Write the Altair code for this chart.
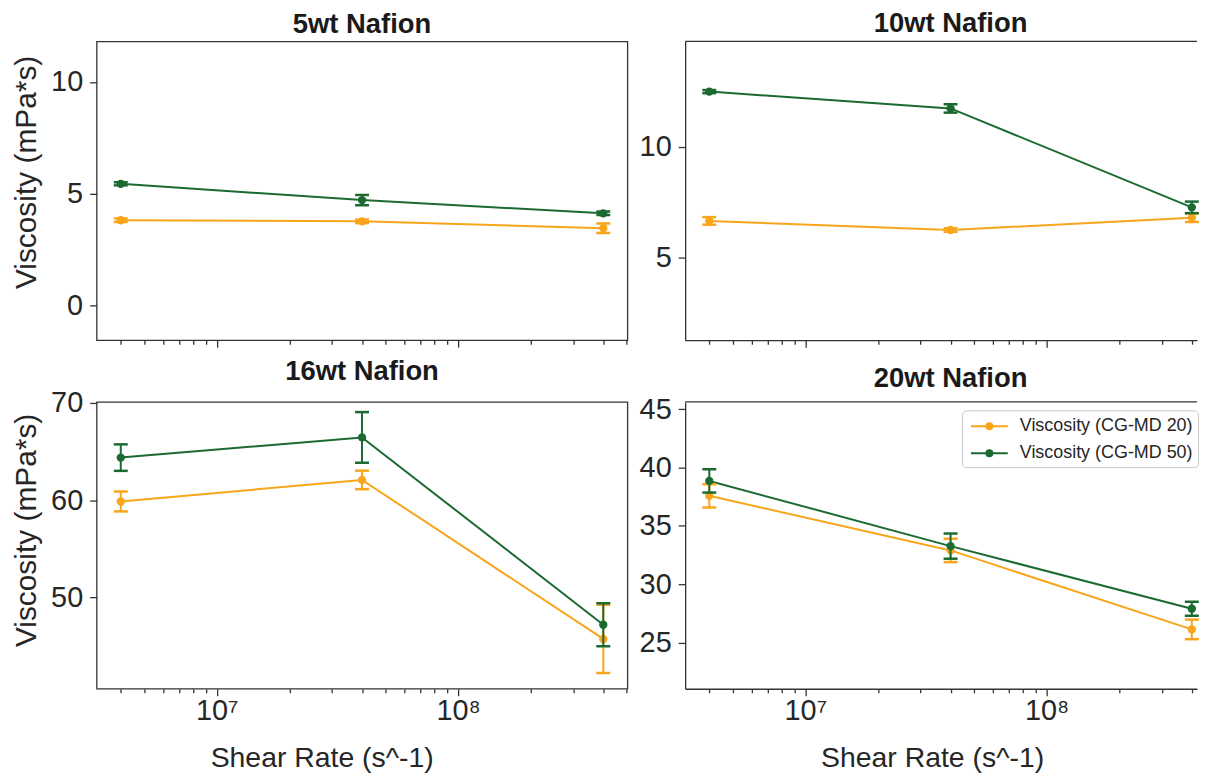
import altair as alt
import pandas as pd

# ---------------- data ----------------
shear_rates = [4e6, 4e7, 4e8]
series_names = ["Viscosity (CG-MD 20)", "Viscosity (CG-MD 50)"]
series_colors = ["#f9a51c", "#1b6a31"]
panel_titles = ["5wt Nafion", "10wt Nafion", "16wt Nafion", "20wt Nafion"]

visc_5wt_md20 = [3.81, 3.76, 3.45]
err_5wt_md20 = [0.08, 0.08, 0.21]
visc_5wt_md50 = [5.44, 4.71, 4.12]
err_5wt_md50 = [0.07, 0.23, 0.08]

visc_10wt_md20 = [6.65, 6.24, 6.79]
err_10wt_md20 = [0.17, 0.08, 0.19]
visc_10wt_md50 = [12.48, 11.72, 7.26]
err_10wt_md50 = [0.07, 0.19, 0.26]

visc_16wt_md20 = [59.86, 62.07, 45.75]
err_16wt_md20 = [1.02, 0.95, 3.5]
visc_16wt_md50 = [64.36, 66.43, 47.21]
err_16wt_md50 = [1.36, 2.6, 2.2]

visc_20wt_md20 = [37.58, 32.9, 26.13]
err_20wt_md20 = [1.0, 1.0, 0.84]
visc_20wt_md50 = [38.86, 33.27, 27.9]
err_20wt_md50 = [1.0, 1.08, 0.6]

y_ticks_5wt = [0, 5, 10]
y_ticks_10wt = [5, 10]
y_ticks_16wt = [50, 60, 70]
y_ticks_20wt = [25, 30, 35, 40, 45]

y_range_5wt = [-1.56, 11.81]
y_range_10wt = [1.27, 14.74]
y_range_16wt = [40.64, 70.07]
y_range_20wt = [21.04, 45.63]

# the right column is cut by the picture edge, so it shows a shorter span of the same scale
x_log_range_left = [6.502, 8.702]
x_log_range_right = [6.502, 8.6236]
x_major_ticks = [1e7, 1e8]
x_major_labels = ["10⁷", "10⁸"]

# ---------------- styling ----------------
FONT = "Liberation Sans"
TEXT = "#262626"
EDGE = "#333333"
W_LEFT, W_RIGHT = 533, 514
H_TOP, H_BOTTOM = 300, 288

minor_candidates = [m * 10.0 ** e for e in (6, 7, 8) for m in range(1, 10)]
MAJOR_TEST = " || ".join(f"datum.value == {int(v)}" for v in x_major_ticks)
LABEL_EXPR = " : ".join(
    f"datum.value == {int(v)} ? '{lab}'" for v, lab in zip(x_major_ticks, x_major_labels)
) + " : ''"

# legend glyph: a line with a filled-looking dot, drawn to the right of the symbol slot
SYMBOL_PATH = (
    "M-1,0L2.7,0 "
    "M1.15,0A0.3,0.3,0,1,1,0.55,0A0.3,0.3,0,1,1,1.15,0 "
    "M0.97,0A0.12,0.12,0,1,1,0.73,0A0.12,0.12,0,1,1,0.97,0"
)


def make_panel(title, md20, err20, md50, err50, y_range, y_ticks, x_log, width, height,
               left_col, bottom_row, show_legend, y_title_pos, x_title_pos):
    rows = []
    for name, vals, errs in ((series_names[0], md20, err20), (series_names[1], md50, err50)):
        for rate, v, e in zip(shear_rates, vals, errs):
            rows.append({"rate": rate, "visc": v, "lo": v - e, "hi": v + e, "series": name})
    df = pd.DataFrame(rows)

    x_lo, x_hi = 10 ** x_log[0], 10 ** x_log[1]
    tick_vals = [t for t in minor_candidates if x_lo <= t <= x_hi]
    x_scale = alt.Scale(type="log", domain=[x_lo, x_hi], nice=False)
    y_scale = alt.Scale(domain=y_range, nice=False, zero=False)

    x_kw = dict(
        values=tick_vals, labels=bottom_row, labelExpr=LABEL_EXPR,
        tickSize={"condition": {"test": MAJOR_TEST, "value": 7}, "value": 4},
        labelPadding=1, labelOverlap=False, labelFlush=False,
        domain=not left_col, grid=False,
    )
    if bottom_row:
        x_kw.update(title="Shear Rate (s^-1)", titleX=x_title_pos, titleY=55)
    else:
        x_kw.update(title=None)
    x_axis = alt.Axis(**x_kw)

    y_kw = dict(values=y_ticks, tickSize=7, labelPadding=7, domain=not left_col, grid=False)
    if left_col:
        y_kw.update(title="Viscosity (mPa*s)", titlePadding=9, titleY=y_title_pos)
    else:
        y_kw.update(title=None)
    y_axis = alt.Axis(**y_kw)

    X = alt.X("rate:Q", scale=x_scale, axis=x_axis)

    def Y(field):
        return alt.Y(f"{field}:Q", scale=y_scale, axis=y_axis)

    base = alt.Chart(df)
    if show_legend:
        legend = alt.Legend(
            orient="none", legendX=278, legendY=8.5, title=None,
            symbolType=SYMBOL_PATH, symbolSize=400, symbolStrokeWidth=2,
            symbolOffset=3, labelFont=FONT, labelFontSize=18, labelColor=TEXT,
            labelLimit=400, labelOffset=28, rowPadding=7, padding=5,
            fillColor="white", strokeColor="#c8c8c8", cornerRadius=4,
        )
    else:
        legend = None

    layers = [
        base.mark_line(strokeWidth=2).encode(
            x=X, y=Y("visc"),
            color=alt.Color("series:N", scale=alt.Scale(domain=series_names, range=series_colors),
                            legend=legend),
        )
    ]
    for name, col in zip(series_names, series_colors):
        sub = base.transform_filter(alt.datum.series == name)
        layers.append(sub.mark_rule(color=col, strokeWidth=2).encode(x=X, y=Y("lo"), y2="hi:Q"))
        layers.append(sub.mark_tick(color=col, orient="horizontal", size=14, thickness=2.5,
                                    opacity=1).encode(x=X, y=Y("lo")))
        layers.append(sub.mark_tick(color=col, orient="horizontal", size=14, thickness=2.5,
                                    opacity=1).encode(x=X, y=Y("hi")))
        layers.append(sub.mark_circle(color=col, size=70, opacity=1).encode(x=X, y=Y("visc")))

    props = dict(
        width=width, height=height,
        title=alt.TitleParams(text=title, fontSize=27.5, fontWeight="bold", font=FONT,
                              color="#1a1a1a", offset=3, anchor="middle", frame="group",
                              dx=0 if left_col else 9.5),
    )
    if not left_col:
        # frame top edge; the right edge lies beyond the picture in the reference
        layers.append(
            alt.Chart(pd.DataFrame({"edge": [0]})).mark_rule(color=EDGE, strokeWidth=1.3).encode(
                x=alt.value(0), x2=alt.value(width), y=alt.value(0)
            )
        )
        props["view"] = alt.ViewBackground(stroke="transparent")
    return alt.layer(*layers).properties(**props)


p1 = make_panel(panel_titles[0], visc_5wt_md20, err_5wt_md20, visc_5wt_md50, err_5wt_md50,
                y_range_5wt, y_ticks_5wt, x_log_range_left, W_LEFT, H_TOP,
                True, False, False, 131, 0)
p2 = make_panel(panel_titles[1], visc_10wt_md20, err_10wt_md20, visc_10wt_md50, err_10wt_md50,
                y_range_10wt, y_ticks_10wt, x_log_range_right, W_RIGHT, H_TOP,
                False, False, False, 0, 0)
p3 = make_panel(panel_titles[2], visc_16wt_md20, err_16wt_md20, visc_16wt_md50, err_16wt_md50,
                y_range_16wt, y_ticks_16wt, x_log_range_left, W_LEFT, H_BOTTOM,
                True, True, False, 128.5, 226)
p4 = make_panel(panel_titles[3], visc_20wt_md20, err_20wt_md20, visc_20wt_md50, err_20wt_md50,
                y_range_20wt, y_ticks_20wt, x_log_range_right, W_RIGHT, H_BOTTOM,
                False, True, True, 0, 248)

chart = (
    alt.concat(p1, p2, p3, p4, columns=2, spacing={"row": 62, "column": 58}, bounds="flush")
    .resolve_legend(color="independent")
    .properties(padding={"left": 3, "top": 0, "right": 0, "bottom": 0}, background="white")
    .configure_view(stroke=EDGE, strokeWidth=1.3)
    .configure_axis(
        labelFont=FONT, labelFontSize=29, labelColor=TEXT,
        titleFont=FONT, titleFontWeight="normal", titleColor=TEXT,
        tickColor=EDGE, tickWidth=1.3, domainColor=EDGE, domainWidth=1.3,
    )
    .configure_axisY(titleFontSize=30)
    .configure_axisX(titleFontSize=28.5)
)

chart.save("out.html", embed_options={"renderer": "svg", "actions": False})
